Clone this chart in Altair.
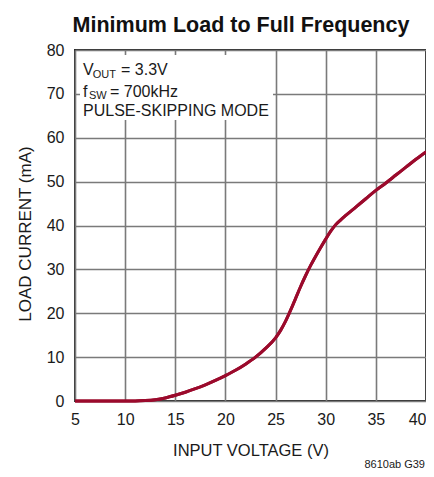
import altair as alt
import pandas as pd

# ---- data ----
vin = [5, 8, 10, 11, 12, 13, 14, 15, 16, 17, 18, 19, 20, 21, 22, 23, 24, 25,
       25.5, 26, 26.5, 27, 27.5, 28, 28.5, 29, 29.5, 30, 30.5, 31, 31.5, 32,
       33, 34, 35, 36, 37, 38, 39, 40]
iload = [0.0, 0.0, 0.0, 0.0, 0.1, 0.3, 0.7, 1.3, 2.0, 2.8, 3.7, 4.7, 5.8, 7.0,
         8.4, 10.0, 12.0, 14.4, 16.1, 18.2, 20.7, 23.4, 26.1, 28.6, 30.9,
         33.0, 35.0, 36.9, 38.7, 40.2, 41.3, 42.3, 44.2, 46.1, 48.0, 49.7,
         51.5, 53.3, 55.1, 56.8]
x_ticks = [5, 10, 15, 20, 25, 30, 35, 40]
y_ticks = [0, 10, 20, 30, 40, 50, 60, 70, 80]

title_text = "Minimum Load to Full Frequency"
x_title = "INPUT VOLTAGE (V)"
y_title = "LOAD CURRENT (mA)"
footer_text = "8610ab G39"

FONT = "Liberation Sans Narrow, Arial Narrow, Liberation Sans, sans-serif"
W, H = 351, 351

df = pd.DataFrame({"vin": vin, "iload": iload})
one = pd.DataFrame({"k": [0]})

xs = alt.Scale(domain=[5, 40], nice=False, zero=False)
ys = alt.Scale(domain=[0, 80], nice=False)

line = alt.Chart(df).mark_line(
    color="#9b0a2c", strokeWidth=3, interpolate="monotone"
).encode(
    x=alt.X("vin:Q", scale=xs, axis=alt.Axis(
        values=x_ticks, title=x_title, grid=True, labelPadding=10,
        labelAlign=alt.ExprRef(expr="datum.value == 40 ? 'right' : 'center'"),
        titleFontSize=16.5, titleY=54, titleBaseline="alphabetic")),
    y=alt.Y("iload:Q", scale=ys, axis=alt.Axis(
        values=y_ticks, title=y_title, grid=True, labelPadding=11,
        titleFontSize=17,
        titleX=-50, titleY=H / 2 + 8, titleAngle=270, titleAlign="center",
        titleBaseline="middle")),
)

box = alt.Chart(one).mark_rect(fill="white").encode(
    x=alt.value(5), x2=alt.value(198), y=alt.value(5), y2=alt.value(70)
)

def txt(s, x, y, size=16, align="left", weight="normal", color="#1a1a1a"):
    return alt.Chart(one).mark_text(
        text=s, align=align, baseline="alphabetic", fontSize=size,
        fontWeight=weight, font=FONT, color=color
    ).encode(x=alt.value(x), y=alt.value(y))

annots = [
    txt("V", 8, 25),
    txt("OUT", 17.7, 27.5, size=11),
    txt("= 3.3V", 46, 25),
    txt("f", 8, 46.5),
    txt("SW", 14, 49, size=11),
    txt("= 700kHz", 35, 46.5),
    txt("PULSE-SKIPPING MODE", 8, 66),
    txt(title_text, 166, -18.5, size=21.5, align="center", weight="bold", color="#111"),
    txt(footer_text, 350, 418, size=11, align="right"),
]

chart = alt.layer(line, box, line, *annots).properties(
    width=W, height=H,
    autosize=alt.AutoSizeParams(type="none"),
    padding={"left": 67, "top": 42, "right": 0, "bottom": 68},
).configure_view(
    stroke="#2b2b2b", strokeWidth=2
).configure_axis(
    domain=False, ticks=False, gridColor="#7a7a7a", gridWidth=1.6, gridOpacity=1,
    labelFont=FONT, labelFontSize=16, labelColor="#1a1a1a",
    titleFont=FONT, titleFontWeight="normal", titleColor="#1a1a1a",
)

chart.save("out.html", embed_options={"renderer": "svg", "actions": False})
